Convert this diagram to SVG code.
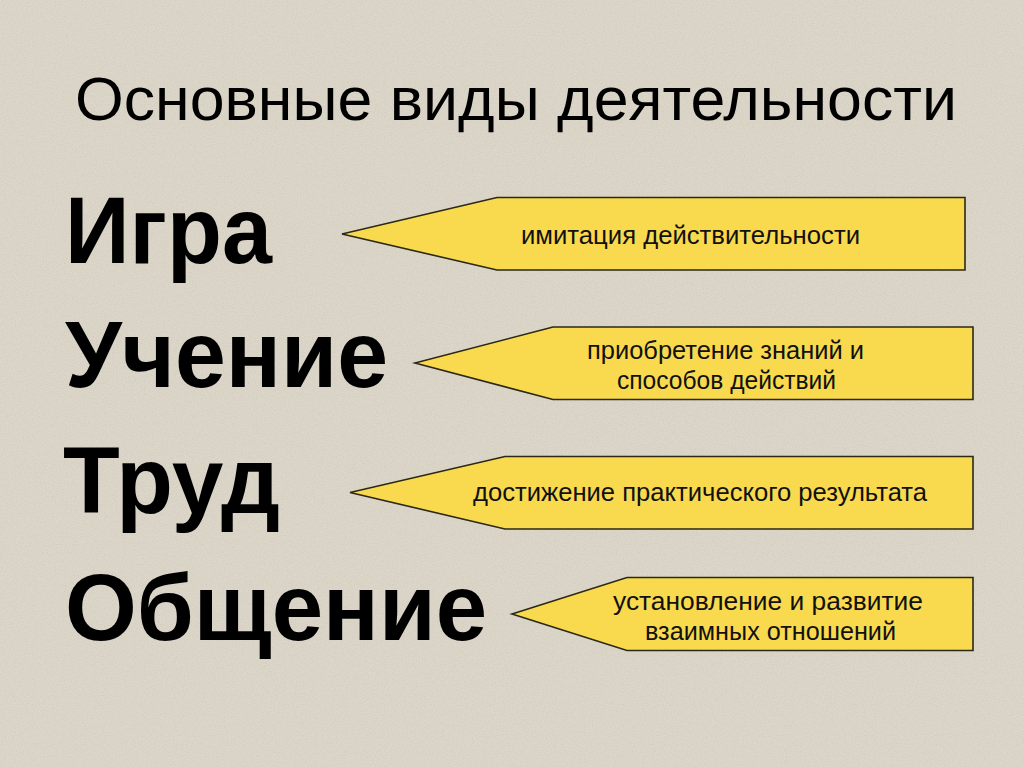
<svg xmlns="http://www.w3.org/2000/svg" width="1024" height="767" viewBox="0 0 1024 767">
  <defs>
    <filter id="grain" x="0" y="0" width="100%" height="100%">
      <feTurbulence type="fractalNoise" baseFrequency="0.9" numOctaves="2" seed="3" result="n"/>
      <feColorMatrix type="matrix" in="n" values="0 0 0 0 0.55  0 0 0 0 0.52  0 0 0 0 0.46  0 0 0 -2.2 1.25"/>
    </filter>
    <style>
      .bg { fill: #dcd6c9; }
      .callout { fill: #f9d94e; stroke: #2b2816; stroke-width: 1.6; stroke-linejoin: miter; }
      .title { font-family: "Liberation Sans", Arial, sans-serif; font-size: 62px; fill: #000; }
      .word { font-family: "Liberation Sans", Arial, sans-serif; font-weight: bold; font-size: 95px; fill: #000; }
      .label { font-family: "Liberation Sans", Arial, sans-serif; font-size: 25px; fill: #111; }
    </style>
  </defs>

  <rect class="bg" x="0" y="0" width="1024" height="767"/>
  <rect x="0" y="0" width="1024" height="767" filter="url(#grain)" opacity="0.45"/>

  <g id="title">
    <text class="title" x="75" y="120" textLength="882" lengthAdjust="spacingAndGlyphs">Основные виды деятельности</text>
  </g>

  <g id="connectors"></g>

  <g id="node-igra">
    <text class="word" x="65" y="263" textLength="207" lengthAdjust="spacingAndGlyphs">Игра</text>
  </g>
  <g id="callout-igra">
    <polygon class="callout" points="342,234 497,197.5 965,197.5 965,270 497,270"/>
    <text class="label" x="521" y="244" textLength="339" lengthAdjust="spacingAndGlyphs">имитация действительности</text>
  </g>

  <g id="node-uchenie">
    <text class="word" x="65" y="387" textLength="323" lengthAdjust="spacingAndGlyphs">Учение</text>
  </g>
  <g id="callout-uchenie">
    <polygon class="callout" points="415,363 553,327 973,327 973,399.5 553,399.5"/>
    <text class="label" x="587" y="359" textLength="277" lengthAdjust="spacingAndGlyphs">приобретение знаний и</text>
    <text class="label" x="617" y="389" textLength="219" lengthAdjust="spacingAndGlyphs">способов действий</text>
  </g>

  <g id="node-trud">
    <text class="word" x="63" y="513" textLength="217" lengthAdjust="spacingAndGlyphs">Труд</text>
  </g>
  <g id="callout-trud">
    <polygon class="callout" points="350,492.5 505,456.5 973,456.5 973,529 505,529"/>
    <text class="label" x="473" y="501" textLength="454" lengthAdjust="spacingAndGlyphs">достижение практического результата</text>
  </g>

  <g id="node-obshchenie">
    <text class="word" x="65" y="640" textLength="422" lengthAdjust="spacingAndGlyphs">Общение</text>
  </g>
  <g id="callout-obshchenie">
    <polygon class="callout" points="512,614 627,577.5 973,577.5 973,650.5 627,650.5"/>
    <text class="label" x="613" y="610" textLength="310" lengthAdjust="spacingAndGlyphs">установление и развитие</text>
    <text class="label" x="645" y="640" textLength="251" lengthAdjust="spacingAndGlyphs">взаимных отношений</text>
  </g>
</svg>
